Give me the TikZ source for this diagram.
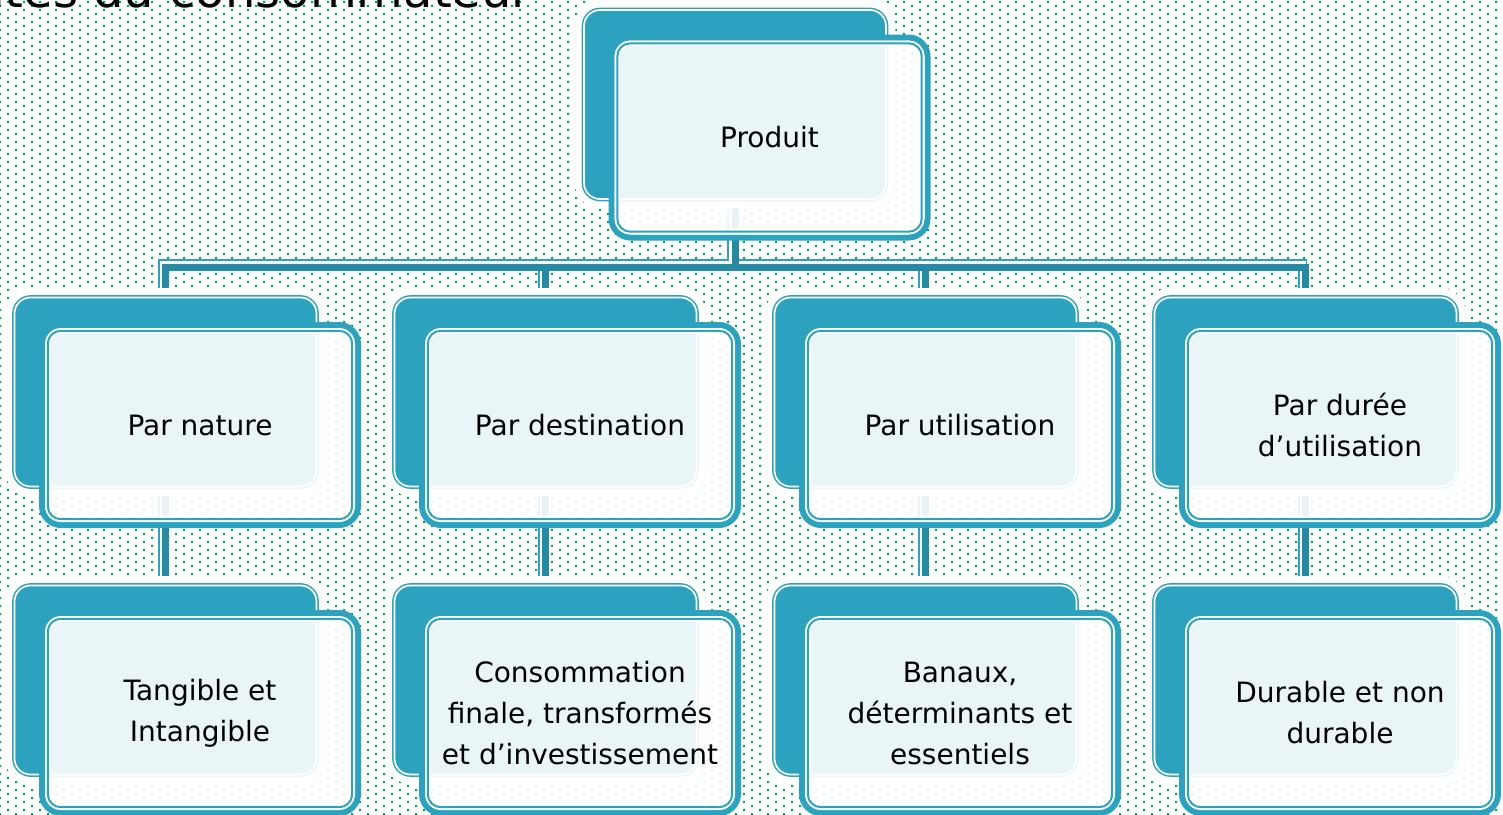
\documentclass[tikz,border=0pt]{standalone}
\usepackage{fontspec}
\setmainfont{DejaVu Sans}
\usetikzlibrary{patterns}
\definecolor{boxteal}{RGB}{44,162,191}
\definecolor{linkteal}{RGB}{38,138,162}
\definecolor{dotgreen}{RGB}{0,166,81}
% Dotted slide background
\pgfdeclarepatternformonly{dotgrid}{\pgfqpoint{-0.5pt}{-0.5pt}}{\pgfqpoint{7.5pt}{3.5pt}}{\pgfqpoint{8pt}{4pt}}{%
  \pgfpathrectangle{\pgfqpoint{-0.5pt}{-0.5pt}}{\pgfqpoint{1pt}{1pt}}%
  \pgfpathrectangle{\pgfqpoint{3.5pt}{1.5pt}}{\pgfqpoint{1pt}{1pt}}%
  \pgfusepath{fill}}
\pgfdeclarelayer{background}
\pgfdeclarelayer{links}
\pgfsetlayers{background,links,main}
\tikzset{
% Two card styles: solid back card and see-through front card
back box/.style={rectangle,rounded corners=8pt,minimum width=151pt,minimum height=94.5pt,
  inner sep=0pt,outer sep=0pt,fill=boxteal,draw=boxteal,double=white,
  line width=0.75pt,double distance=0.85pt,preaction={draw=white,line width=9.35pt}},
front box/.style={rectangle,rounded corners=9.5pt,minimum width=158pt,minimum height=100pt,
  inner sep=0pt,outer sep=0pt,fill=white,fill opacity=0.9,text opacity=1,
  draw=boxteal,line width=3pt,align=center,font=\fontsize{14pt}{20.5pt}\selectfont},
front ring/.style={rectangle,rounded corners=6.5pt,minimum width=152.2pt,minimum height=94.2pt,
  inner sep=0pt,outer sep=0pt,draw=white,double=boxteal,line width=0.9pt,double distance=1pt},
% Connectors: dark bar with a light edge above/left
link/.style={draw=linkteal,line width=3.5pt},
link edge/.style={draw=boxteal,double=white,line width=0.8pt,double distance=3pt},
title text/.style={font=\fontsize{24pt}{28pt}\selectfont,inner sep=0pt}
}
\begin{document}
\begin{tikzpicture}[x=0.5pt,y=-0.5pt]
      \useasboundingbox (0,0) rectangle (1503,814);
      \clip (0,0) rectangle (1503,814);
      \begin{pgfonlayer}{background}
      \fill[white] (0,0) rectangle (1503,814);
      \fill[pattern=dotgrid,pattern color=dotgreen] (0,0) rectangle (1503,814);
      \end{pgfonlayer}
      % Slide title, cut by the top edge
      \node[title text,anchor=base east] (title) at (532,7) {ntes du consommateur};
      % Root
      \node[back box] (prod) at (735,104.5) {};
      \node[front box] (prodFront) at ([shift={(34.5,33)}]prod.center) {Produit};
      \node[front ring] (prodRing) at (prodFront.center) {};
      % First level
      \node[back box] (nat) at (165.5,392) {};
      \node[front box] (natFront) at ([shift={(34.5,33)}]nat.center) {Par nature};
      \node[front ring] (natRing) at (natFront.center) {};
      \node[back box] (dest) at (545.5,392) {};
      \node[front box] (destFront) at ([shift={(34.5,33)}]dest.center) {Par destination};
      \node[front ring] (destRing) at (destFront.center) {};
      \node[back box] (util) at (925.5,392) {};
      \node[front box] (utilFront) at ([shift={(34.5,33)}]util.center) {Par utilisation};
      \node[front ring] (utilRing) at (utilFront.center) {};
      \node[back box] (dur) at (1305.5,392) {};
      \node[front box] (durFront) at ([shift={(34.5,33)}]dur.center) {Par durée\\d’utilisation};
      \node[front ring] (durRing) at (durFront.center) {};
      % Second level
      \node[back box] (tang) at (165.5,680) {};
      \node[front box] (tangFront) at ([shift={(34.5,33)}]tang.center) {Tangible et\\Intangible};
      \node[front ring] (tangRing) at (tangFront.center) {};
      \node[back box] (conso) at (545.5,680) {};
      \node[front box] (consoFront) at ([shift={(34.5,33)}]conso.center) {Consommation\\finale, transformés\\et d’investissement};
      \node[front ring] (consoRing) at (consoFront.center) {};
      \node[back box] (banal) at (925.5,680) {};
      \node[front box] (banalFront) at ([shift={(34.5,33)}]banal.center) {Banaux,\\déterminants et\\essentiels};
      \node[front ring] (banalRing) at (banalFront.center) {};
      \node[back box] (durab) at (1305.5,680) {};
      \node[front box] (durabFront) at ([shift={(34.5,33)}]durab.center) {Durable et non\\durable};
      \node[front ring] (durabRing) at (durabFront.center) {};
      % Connectors, behind the cards
      \coordinate (bus) at (0,267);
      \begin{pgfonlayer}{links}
      \begin{scope}[transform canvas={shift={(-3,-3)}}]
      \draw[link edge] (prod.south) -- (prod.south |- bus) -| (nat.north)
        (prod.south |- bus) -| (dest.north) (prod.south |- bus) -| (util.north)
        (prod.south |- bus) -| (dur.north)
        (nat.south) -- (tang.north) (dest.south) -- (conso.north)
        (util.south) -- (banal.north) (dur.south) -- (durab.north);
      \end{scope}
      \draw[link] (prod.south) -- (prod.south |- bus) -| (nat.north)
        (prod.south |- bus) -| (dest.north) (prod.south |- bus) -| (util.north)
        (prod.south |- bus) -| (dur.north)
        (nat.south) -- (tang.north) (dest.south) -- (conso.north)
        (util.south) -- (banal.north) (dur.south) -- (durab.north);
      \end{pgfonlayer}
\end{tikzpicture}
\end{document}
